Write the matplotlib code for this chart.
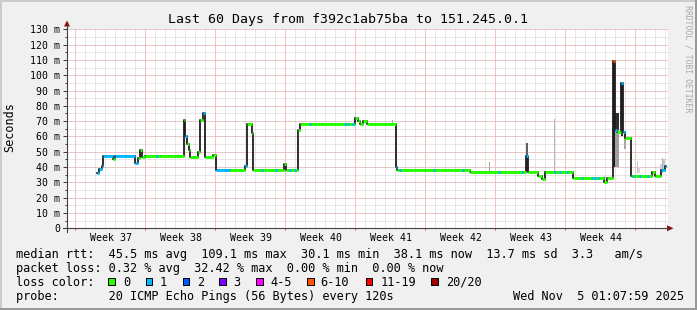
import numpy as np
import matplotlib.pyplot as plt
from matplotlib.patches import Rectangle, Polygon

plt.rcParams['font.family'] = ['DejaVu Sans Mono']

# median rtt as steps: start day (0 = left edge of the graph), value in ms, loss bucket
step_day = [2.95, 3.2, 3.45, 3.6, 4.6, 4.8, 6.8, 7.1, 7.3, 7.45, 7.8, 9.3,
            11.7, 11.8, 12.0, 12.2, 12.3, 13.1, 13.3, 13.6, 13.8, 14.6, 14.85, 16.3,
            17.8, 17.95, 18.45, 18.55, 21.7, 21.85, 23.1, 23.25, 28.8, 29.1, 29.3, 29.6,
            30.0, 32.85, 33.0, 40.3, 45.9, 46.1, 47.1, 47.5, 47.8, 50.6, 53.7, 54.0,
            54.6, 54.8, 54.95, 55.4, 55.6, 55.8, 56.4, 58.5, 58.8, 59.4, 59.8]
step_ms = [36, 38.5, 41, 47, 45.5, 47.5, 42.5, 46, 51, 46.5, 47.5, 47,
           71, 60, 55, 51, 46.5, 50, 71, 75, 46.5, 48, 38, 38,
           41, 68, 62, 38, 42, 38, 64, 68, 72, 70, 68, 70,
           68, 40, 38, 37, 47, 37, 34.3, 32, 37, 32.6, 30.4, 32.6,
           109.1, 64, 63, 95, 63, 59, 34.4, 37, 34.4, 38, 40.5]
step_loss = [1, 1, 1, 1, 0, 1, 1, 0, 0, 0, 0, 0,
             0, 1, 0, 0, 0, 0, 0, 1, 0, 0, 1, 0,
             1, 0, 0, 0, 0, 0, 0, 0, 0, 0, 0, 0,
             0, 1, 0, 0, 1, 0, 0, 0, 0, 0, 0, 0,
             5, 1, 0, 1, 1, 0, 0, 0, 0, 1, 1]
last_day = 59.85

# short spots on green stretches where one ping was lost
blue_day = [9.0, 19.5, 20.9, 22.3, 22.8, 24.3, 27.8, 28.1, 28.6, 33.3, 36.7,
            39.6, 43.2, 45.5, 48.8, 49.3, 50.0, 51.5, 52.5, 52.8, 53.1, 56.6,
            57.3, 58.1]

# smoke (spread of the single pings)
smoke_from = [32.45, 42.15, 45.85, 48.65, 53.65, 54.6, 54.8, 54.8, 55.35, 55.65,
              57.0, 57.1, 59.3, 59.45, 59.6]
smoke_to = [32.55, 42.25, 46.05, 48.75, 53.75, 54.8, 55.2, 55.2, 55.6, 55.85,
            57.1, 57.3, 59.45, 59.6, 59.8]
smoke_lo = [68, 37, 37, 37, 30, 40, 40, 64, 60, 52, 36, 36, 35, 36, 38]
smoke_hi = [71, 43.5, 56, 71.5, 34, 109, 64, 75, 95, 62, 44, 40, 42, 46, 45]
smoke_shade = ['#a8a8a8', '#a0a0a0', '#606060', '#b8b8b8', '#c0c0c0', '#202020',
               '#a0a0a0', '#303030', '#303030', '#a8a8a8', '#c0c0c0', '#dadada',
               '#d0d0d0', '#b4b4b4', '#c8c8c8']

loss_names = ['0', '1', '2', '3', '4-5', '6-10', '11-19', '20/20']
loss_cols = ['#26ff00', '#00b8ff', '#0059ff', '#7e00ff', '#ff00ff', '#ff5500', '#ff0000', '#a10000']

week_names = ['Week 37', 'Week 38', 'Week 39', 'Week 40', 'Week 41', 'Week 42', 'Week 43', 'Week 44']
y_ticks = list(range(0, 131, 10))

title = 'Last 60 Days from f392c1ab75ba to 151.245.0.1'
rtt_line = 'median rtt:  45.5 ms avg  109.1 ms max  30.1 ms min  38.1 ms now  13.7 ms sd  3.3   am/s'
loss_line = 'packet loss: 0.32 % avg  32.42 % max  0.00 % min  0.00 % now'
probe_line = 'probe:       20 ICMP Echo Pings (56 Bytes) every 120s'
stamp = 'Wed Nov  5 01:07:59 2025'

W, H = 697, 310
fig = plt.figure(figsize=(W / 100, H / 100), dpi=100, facecolor='#f0f0f0')

ax = fig.add_axes([67 / W, (H - 228.3) / H, 601 / W, 199 / H])
ax.set_xlim(0, 60.1)
ax.set_ylim(0, 130)
ax.set_facecolor('white')
for s in ax.spines.values():
    s.set_visible(False)

# grid
days = np.arange(0.8, 60.1, 1.0)
weeks = np.arange(0.8, 60.1, 7.0)
dots = (0, (1, 1))
ax.vlines(days, 0, 130, colors='#cfcfcf', lw=0.72, linestyles=dots, zorder=1)
ax.hlines(np.arange(5, 131, 5), 0, 60.1, colors='#cfcfcf', lw=0.72, linestyles=dots, zorder=1)
ax.vlines(weeks, 0, 130, colors='#efaaaa', lw=0.72, linestyles=dots, zorder=2)
ax.hlines(np.arange(10, 131, 10), 0, 60.1, colors='#efaaaa', lw=0.72, linestyles=dots, zorder=2)

# smoke
lo = np.array(smoke_lo)
hi = np.array(smoke_hi)
t0 = np.array(smoke_from)
t1 = np.array(smoke_to)
ax.bar(t0, hi - lo, width=t1 - t0, bottom=lo, align='edge', color=smoke_shade, lw=0, zorder=3)

# median line
xs = step_day + [last_day]
ys = step_ms + [step_ms[-1]]
ax.step(xs, ys, where='post', color='#1e1e1e', lw=1.3, zorder=4)
ax.hlines(step_ms, step_day, step_day[1:] + [last_day],
          colors=[loss_cols[k] for k in step_loss], lw=2.1, zorder=5, capstyle='butt')
idx = np.searchsorted(step_day, blue_day, side='right') - 1
bd = np.array(blue_day)
ax.hlines(np.array(step_ms)[idx], bd - 0.08, bd + 0.08, colors=loss_cols[1], lw=2.1,
          zorder=6, capstyle='butt')

# ticks
ax.set_yticks(y_ticks, [f'{v} m' if v else '0' for v in y_ticks])
ax.set_yticks(np.arange(5, 130, 10), minor=True)
ax.tick_params(axis='y', which='major', length=2.9, width=0.72, color='#404040', pad=2.2,
               labelsize=7.1)
ax.tick_params(axis='y', which='minor', length=1.4, width=0.72, color='#404040')
ax.set_xticks(4.4 + 7 * np.arange(len(week_names)), week_names)
ax.tick_params(axis='x', which='major', length=0, pad=3.1, labelsize=7.1)
ax.set_xticks(weeks, minor=True)
ax.tick_params(axis='x', which='minor', length=1.4, width=0.72, color='#de5050')

# overlay in pixel units for frame, axes arrows and legend
ov = fig.add_axes([0, 0, 1, 1])
ov.set_xlim(0, W)
ov.set_ylim(H, 0)
ov.axis('off')

ov.add_patch(Rectangle((0, 0), W, 2, color='#cbcbcb', lw=0))
ov.add_patch(Rectangle((0, 0), 2, H, color='#cbcbcb', lw=0))
ov.add_patch(Rectangle((0, H - 2), W, 2, color='#999999', lw=0))
ov.add_patch(Rectangle((W - 2, 0), 2, H, color='#999999', lw=0))

ov.plot([63, 669], [228.3, 228.3], color='#404040', lw=0.8)
ov.plot([67, 67], [231.5, 25], color='#404040', lw=0.8)
ov.add_patch(Polygon([(667, 225.3), (673.5, 228.3), (667, 231.3)], color='#8b1010', lw=0))
ov.add_patch(Polygon([(64, 26.5), (67, 20.5), (70, 26.5)], color='#8b1010', lw=0))

ov.text(347.5, 19.3, title, ha='center', va='center', fontsize=9.55)
ov.text(10, 127.5, 'Seconds', rotation=90, ha='center', va='center', fontsize=8.5)
ov.text(688, 59, 'RRDTOOL / TOBI OETIKER', rotation=270, ha='center', va='center',
        fontsize=5.9, color='#a8a8a8')

ov.text(16, 254.3, rtt_line, ha='left', va='center', fontsize=8.53)
ov.text(16, 268.3, loss_line, ha='left', va='center', fontsize=8.53)
ov.text(16, 282.3, 'loss color:', ha='left', va='center', fontsize=8.53)
ov.text(16, 296.2, probe_line, ha='left', va='center', fontsize=8.53)
ov.text(513.3, 296.2, stamp, ha='left', va='center', fontsize=8.53)

box_x = [108.3, 145.7, 182.7, 219.3, 256, 307.3, 365.7, 431]
lab_x = [123.3, 160, 197, 233, 270, 320.7, 381, 445.7]
for bx, lx, name, col in zip(box_x, lab_x, loss_names, loss_cols):
    ov.add_patch(Rectangle((bx, 278.3), 6.7, 6.7, facecolor=col, edgecolor='black', lw=0.72))
    ov.text(lx, 282.3, name, ha='left', va='center', fontsize=8.53)

fig.savefig('out.png', dpi=100, facecolor=fig.get_facecolor())
